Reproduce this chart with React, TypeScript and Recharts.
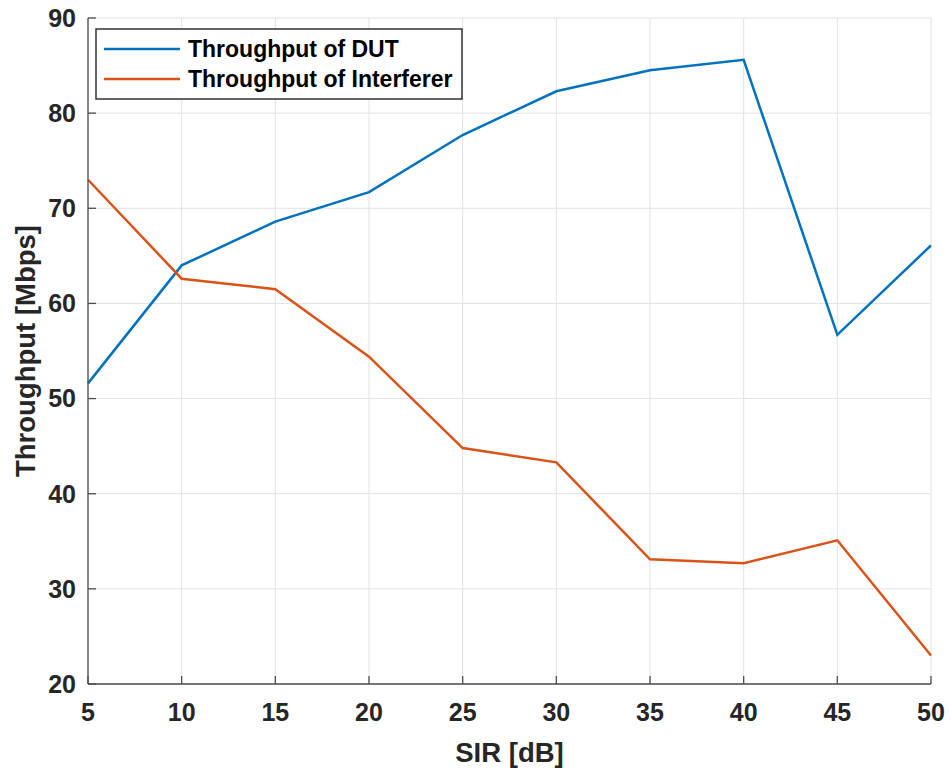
import { LineChart, Line, XAxis, YAxis, CartesianGrid, Legend, Label } from 'recharts';

// SIR sweep in dB and measured throughput in Mbps
const sirDb = [5, 10, 15, 20, 25, 30, 35, 40, 45, 50];
const dutThroughput = [51.6, 64.0, 68.6, 71.7, 77.7, 82.3, 84.5, 85.6, 56.7, 66.1];
const interfererThroughput = [73.0, 62.6, 61.5, 54.4, 44.8, 43.3, 33.1, 32.7, 35.1, 23.0];

const xTicks = [5, 10, 15, 20, 25, 30, 35, 40, 45, 50];
const yTicks = [20, 30, 40, 50, 60, 70, 80, 90];

const FONT = '"Liberation Sans", Arial, Helvetica, sans-serif';
const AXIS_COLOR = '#4d4d4d';
const TEXT_COLOR = '#262626';
const GRID_COLOR = '#e2e2e2';
const DUT_COLOR = '#0072BD';
const INTERFERER_COLOR = '#D95319';

const data = sirDb.map((sir, i) => ({
  sir,
  dut: dutThroughput[i],
  interferer: interfererThroughput[i],
}));

const tickStyle = { fill: TEXT_COLOR, fontSize: 25, fontFamily: FONT, fontWeight: 'bold' };
const noTick = () => <g />;

// boxed legend in the top-left corner of the axes
const LegendBox = ({ payload }: any) => (
  <svg width={368} height={72} style={{ display: 'block' }}>
    <rect x={1} y={1} width={366} height={70} fill="#fff" stroke="#333" strokeWidth={1.5} />
    {(payload || []).map((entry: any, i: number) => {
      const cy = 21 + i * 30;
      return (
        <g key={entry.value}>
          <line x1={9} x2={85} y1={cy} y2={cy} stroke={entry.color} strokeWidth={2.5} />
          <text
            x={93}
            y={cy + 8}
            fill="#000"
            fontSize={23}
            fontFamily={FONT}
            fontWeight="bold"
          >
            {entry.value}
          </text>
        </g>
      );
    })}
  </svg>
);

const XLabel = ({ viewBox }: any) => {
  const vb = viewBox || { x: 88, y: 684, width: 843, height: 84 };
  return (
    <text
      x={vb.x + vb.width / 2}
      y={vb.y + vb.height - 6}
      textAnchor="middle"
      fill={TEXT_COLOR}
      fontSize={27.5}
      fontFamily={FONT}
      fontWeight="bold"
    >
      SIR [dB]
    </text>
  );
};

const YLabel = ({ viewBox }: any) => {
  const vb = viewBox || { x: 0, y: 18, width: 88, height: 666 };
  const x = 35;
  const y = vb.y + vb.height / 2;
  return (
    <text
      x={x}
      y={y}
      transform={`rotate(-90 ${x} ${y})`}
      textAnchor="middle"
      fill={TEXT_COLOR}
      fontSize={27.5}
      fontFamily={FONT}
      fontWeight="bold"
    >
      Throughput [Mbps]
    </text>
  );
};

export default function App() {
  return (
    <div style={{ position: 'absolute', left: 0, top: 0, background: '#fff' }}>
      <LineChart
        width={951}
        height={768}
        data={data}
        margin={{ top: 18, right: 20, bottom: 0, left: 0 }}
      >
        <CartesianGrid stroke={GRID_COLOR} strokeWidth={1} />
        <XAxis
          dataKey="sir"
          type="number"
          domain={[5, 50]}
          ticks={xTicks}
          interval={0}
          height={84}
          tick={tickStyle}
          tickSize={-8}
          tickMargin={27}
          axisLine={{ stroke: AXIS_COLOR, strokeWidth: 1.3 }}
          tickLine={{ stroke: AXIS_COLOR, strokeWidth: 1.3 }}
        >
          <Label content={XLabel} />
        </XAxis>
        <XAxis
          xAxisId="top"
          orientation="top"
          dataKey="sir"
          type="number"
          domain={[5, 50]}
          ticks={xTicks}
          interval={0}
          height={0}
          tick={noTick}
          tickSize={-8}
          axisLine={{ stroke: AXIS_COLOR, strokeWidth: 1.3 }}
          tickLine={{ stroke: AXIS_COLOR, strokeWidth: 1.3 }}
        />
        <YAxis
          type="number"
          domain={[20, 90]}
          ticks={yTicks}
          interval={0}
          width={88}
          tick={tickStyle}
          tickSize={-8}
          tickMargin={20}
          axisLine={{ stroke: AXIS_COLOR, strokeWidth: 1.3 }}
          tickLine={{ stroke: AXIS_COLOR, strokeWidth: 1.3 }}
        >
          <Label content={YLabel} />
        </YAxis>
        <YAxis
          yAxisId="right"
          orientation="right"
          type="number"
          domain={[20, 90]}
          ticks={yTicks}
          interval={0}
          width={0}
          tick={noTick}
          tickSize={-8}
          axisLine={{ stroke: AXIS_COLOR, strokeWidth: 1.3 }}
          tickLine={{ stroke: AXIS_COLOR, strokeWidth: 1.3 }}
        />
        <Legend
          layout="vertical"
          align="center"
          verticalAlign="middle"
          wrapperStyle={{ top: 28, left: 95, width: 368 }}
          content={LegendBox}
        />
        <Line
          name="Throughput of DUT"
          dataKey="dut"
          stroke={DUT_COLOR}
          strokeWidth={2.5}
          dot={false}
          isAnimationActive={false}
        />
        <Line
          name="Throughput of Interferer"
          dataKey="interferer"
          stroke={INTERFERER_COLOR}
          strokeWidth={2.5}
          dot={false}
          isAnimationActive={false}
        />
      </LineChart>
    </div>
  );
}
